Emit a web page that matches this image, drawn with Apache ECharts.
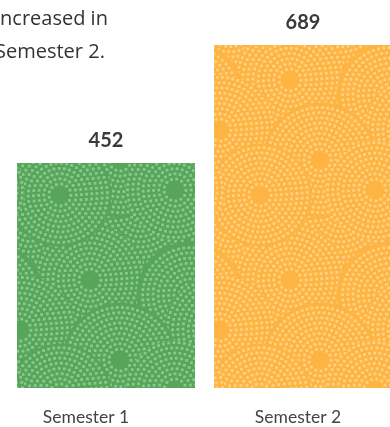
<!DOCTYPE html>
<html>
<head>
<meta charset="utf-8">
<style>
  html, body { margin: 0; padding: 0; background: #ffffff; }
  #chart { width: 390px; height: 427px; }
</style>
<script src="https://cdn.jsdelivr.net/npm/echarts@6/dist/echarts.min.js"></script>
</head>
<body>
<div id="chart"></div>
<script>
// Students per semester
const categories = ['Semester 1', 'Semester 2'];
const values = [452, 689];
const headline = 'increased in\nSemester 2.';

// Build a seamless tile of overlapping dotted rosettes for a bar fill
function makeRosetteTile(base, dot) {
  const size = 200;
  const c = document.createElement('canvas');
  c.width = size; c.height = size;
  const ctx = c.getContext('2d');
  ctx.fillStyle = base;
  ctx.fillRect(0, 0, size, size);
  // rosette centres and outer radii inside the tile
  const rosettes = [
    [30, 20, 52], [140, 10, 56], [90, 80, 54], [190, 95, 52],
    [20, 130, 54], [120, 160, 56], [60, 195, 50], [175, 190, 48]
  ];
  const step = 5.2;
  rosettes.forEach(([cx, cy, R], idx) => {
    for (let ox = -size; ox <= size; ox += size) {
      for (let oy = -size; oy <= size; oy += size) {
        const x = cx + ox, y = cy + oy;
        if (x + R < 0 || x - R > size || y + R < 0 || y - R > size) continue;
        ctx.fillStyle = base;
        ctx.beginPath();
        ctx.arc(x, y, R + 1.5, 0, Math.PI * 2);
        ctx.fill();
        ctx.fillStyle = dot;
        for (let r = 11; r <= R; r += step) {
          const n = Math.round(2 * Math.PI * r / step);
          const phase = (r * 0.37 + idx) % 1;
          for (let k = 0; k < n; k++) {
            const a = (k + phase) * 2 * Math.PI / n;
            ctx.fillRect(x + r * Math.cos(a) - 1.4, y + r * Math.sin(a) - 1.4, 2.8, 2.8);
          }
        }
      }
    }
  });
  return c;
}

const greenTile = makeRosetteTile('#56a55b', '#8ac88b');
const orangeTile = makeRosetteTile('#fdb443', '#fed183');
const fills = [greenTile, orangeTile];

const chart = echarts.init(document.getElementById('chart'), null, { renderer: 'canvas' });

chart.setOption({
  animation: false,
  backgroundColor: '#ffffff',
  grid: { left: 7.5, width: 394, top: 39.5, bottom: 39, containLabel: false, outerBoundsMode: 'none' },
  xAxis: {
    type: 'category',
    data: categories,
    axisLine: { show: false },
    axisTick: { show: false },
    axisLabel: {
      margin: 20,
      formatter: (v, i) => '{c' + i + '|' + v + '}',
      rich: {
        c0: { fontFamily: 'Lato', fontSize: 17.5, color: '#444444', padding: [0, 40, 0, 0] },
        c1: { fontFamily: 'Lato', fontSize: 17.5, color: '#444444', padding: [0, 10, 0, 0] }
      }
    }
  },
  yAxis: {
    type: 'value',
    min: 0,
    max: 700,
    show: false
  },
  graphic: [{
    type: 'text',
    left: -5,
    top: 3,
    style: {
      text: headline,
      font: '20px "Open Sans"',
      fill: '#333333',
      lineHeight: 33
    }
  }],
  series: [{
    type: 'bar',
    barWidth: 178,
    data: values.map((v, i) => ({
      value: v,
      itemStyle: { color: { image: fills[i], repeat: 'repeat' } }
    })),
    label: {
      show: true,
      position: 'top',
      distance: 12,
      fontFamily: 'Lato',
      fontWeight: 'bold',
      fontSize: 20,
      color: '#3a3a3a'
    }
  }]
});
</script>
</body>
</html>
